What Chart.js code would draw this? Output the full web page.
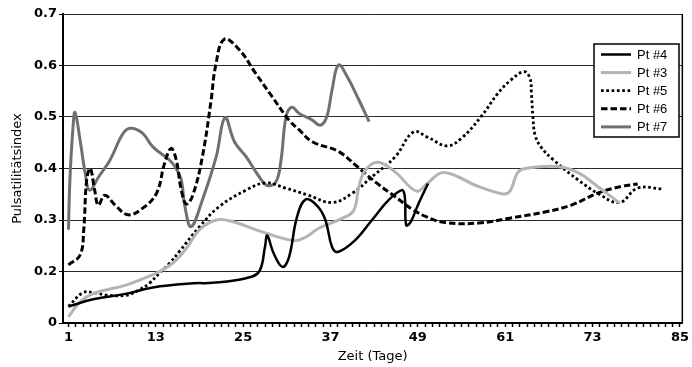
<!DOCTYPE html>
<html>
<head>
<meta charset="utf-8">
<script src="https://cdn.jsdelivr.net/npm/chart.js@4"></script>
<style>
  html, body { margin: 0; padding: 0; background: #fff; }
  #wrap { width: 692px; height: 367px; }
</style>
</head>
<body>
<div id="wrap"><canvas id="chart" width="692" height="367"></canvas></div>
<script>
// --- DATA ---
const xTickLabels = [1, 13, 25, 37, 49, 61, 73, 85];
// bottom grid line is labelled "0" in the original
const yTickLabels = ["0", "0.2", "0.3", "0.4", "0.5", "0.6", "0.7"];

const pt4Days = [1, 4.4, 9, 12.6, 18.1, 20.8, 25.4, 27.2, 28, 28.3, 29.2, 30.4, 31.3, 32.4, 33.6, 35.2, 36.3, 37.2, 38, 40.4, 42.7, 45, 46.8, 47.2, 47.4, 48, 49.1, 50.4];
const pt4Values = [0.132, 0.146, 0.157, 0.169, 0.177, 0.178, 0.187, 0.2, 0.248, 0.27, 0.235, 0.209, 0.228, 0.306, 0.34, 0.327, 0.3, 0.248, 0.238, 0.261, 0.3, 0.339, 0.358, 0.346, 0.29, 0.296, 0.332, 0.371];

const pt3Days = [1, 2.6, 4.4, 9, 12.6, 13.5, 15.3, 17.2, 19, 21.3, 23.5, 27.6, 32, 33.5, 35.4, 38.6, 40.2, 40.9, 41.8, 43.5, 45.9, 48.8, 50.3, 52.3, 54.5, 56.8, 60.5, 61.6, 62.7, 63.7, 68.2, 71, 73.7, 76.7];
const pt3Values = [0.112, 0.141, 0.157, 0.174, 0.194, 0.2, 0.216, 0.245, 0.281, 0.3, 0.297, 0.277, 0.26, 0.266, 0.284, 0.303, 0.319, 0.365, 0.397, 0.412, 0.393, 0.356, 0.371, 0.392, 0.384, 0.368, 0.351, 0.355, 0.392, 0.4, 0.404, 0.392, 0.365, 0.333];

const pt5Days = [1, 3, 4.4, 6.4, 9, 10.8, 12.1, 13.5, 14.9, 16.3, 19, 21.7, 25.4, 28.1, 30.8, 33.8, 37.2, 40, 42.7, 45.9, 48.4, 50.3, 53, 55, 57.7, 60, 61.8, 63.6, 64.4, 64.6, 64.8, 65.1, 65.9, 67.6, 71, 73.7, 76.7, 79.2, 82.8];
const pt5Values = [0.132, 0.159, 0.159, 0.154, 0.154, 0.165, 0.177, 0.197, 0.216, 0.24, 0.287, 0.326, 0.358, 0.372, 0.362, 0.349, 0.334, 0.352, 0.384, 0.423, 0.471, 0.461, 0.444, 0.459, 0.501, 0.546, 0.572, 0.588, 0.575, 0.546, 0.501, 0.465, 0.442, 0.417, 0.378, 0.352, 0.334, 0.362, 0.36];

const pt6Days = [1, 2.6, 3.1, 3.5, 4, 4.6, 5.1, 6, 7.4, 9.2, 11.2, 13.1, 14.2, 15.1, 15.8, 16.5, 17.2, 18.1, 19.4, 20.6, 21.2, 22.4, 24.5, 26.7, 29, 31.3, 32.7, 34.5, 38.1, 40.4, 43.4, 45.9, 48.2, 50.2, 52.7, 57.3, 61.4, 66.6, 70.1, 73.7, 76.9, 79.2];
const pt6Values = [0.213, 0.232, 0.281, 0.378, 0.4, 0.358, 0.329, 0.348, 0.329, 0.31, 0.323, 0.352, 0.41, 0.439, 0.417, 0.358, 0.331, 0.349, 0.423, 0.533, 0.598, 0.651, 0.63, 0.585, 0.539, 0.494, 0.475, 0.452, 0.433, 0.407, 0.371, 0.345, 0.321, 0.306, 0.295, 0.294, 0.303, 0.316, 0.329, 0.352, 0.365, 0.37];

const pt7Days = [1, 1.2, 1.6, 1.9, 2.6, 3.3, 3.9, 5.2, 6.7, 8.5, 9.6, 11.2, 12.6, 14.9, 15.8, 16.5, 17, 17.85, 19.4, 21.3, 22.5, 23.8, 25.4, 27.2, 28.3, 29.5, 30.2, 30.9, 31.7, 32.7, 34.5, 35.6, 36.5, 37.2, 38.1, 39.3, 40.9, 42.3];
const pt7Values = [0.281, 0.378, 0.475, 0.509, 0.455, 0.391, 0.358, 0.385, 0.416, 0.468, 0.478, 0.468, 0.442, 0.416, 0.4, 0.378, 0.326, 0.287, 0.339, 0.423, 0.499, 0.452, 0.423, 0.384, 0.367, 0.374, 0.416, 0.501, 0.519, 0.507, 0.494, 0.484, 0.501, 0.552, 0.601, 0.578, 0.533, 0.491];

// --- HELPERS ---
function toPoints(days, values) {
  return days.map((d, i) => ({ x: d, y: values[i] }));
}

function makeSeries(label, days, values, color, width, dash) {
  return {
    label: label,
    data: toPoints(days, values),
    borderColor: color,
    borderWidth: width,
    borderDash: dash,
    pointRadius: 0,
    tension: 0.4,
    fill: false,
  };
}

const tickFont = { family: "DejaVu Sans", size: 13, weight: "bold" };
const titleFont = { family: "DejaVu Sans", size: 13 };

// right border of the plot area
const plotBorder = {
  id: "plotBorder",
  beforeDatasetsDraw(chart) {
    const { ctx, chartArea } = chart;
    ctx.save();
    ctx.strokeStyle = "#000";
    ctx.lineWidth = 1.5;
    ctx.beginPath();
    ctx.moveTo(chartArea.right, chartArea.top);
    ctx.lineTo(chartArea.right, chartArea.bottom);
    ctx.stroke();
    ctx.restore();
  },
};

// boxed legend in the upper right of the plot
const boxLegend = {
  id: "boxLegend",
  afterDraw(chart) {
    const ctx = chart.ctx;
    const x = 594, y = 44, w = 85, h = 93;
    ctx.save();
    ctx.fillStyle = "#fff";
    ctx.fillRect(x, y, w, h);
    ctx.strokeStyle = "#000";
    ctx.lineWidth = 1.5;
    ctx.strokeRect(x, y, w, h);
    ctx.font = "13px 'Liberation Sans'";
    ctx.textBaseline = "middle";
    chart.data.datasets.forEach((ds, i) => {
      const cy = 54.5 + i * 18.1;
      ctx.strokeStyle = ds.borderColor;
      ctx.lineWidth = ds.borderWidth;
      ctx.setLineDash(ds.borderDash || []);
      ctx.beginPath();
      ctx.moveTo(601, cy);
      ctx.lineTo(631, cy);
      ctx.stroke();
      ctx.setLineDash([]);
      ctx.fillStyle = "#000";
      ctx.fillText(ds.label, 637, cy + 0.5);
    });
    ctx.restore();
  },
};

new Chart(document.getElementById("chart"), {
  type: "line",
  data: {
    datasets: [
      makeSeries("Pt #4", pt4Days, pt4Values, "#000000", 2.5, []),
      makeSeries("Pt #3", pt3Days, pt3Values, "#b4b4b4", 3, []),
      makeSeries("Pt #5", pt5Days, pt5Values, "#000000", 2.8, [2.7, 2.6]),
      makeSeries("Pt #6", pt6Days, pt6Values, "#000000", 3, [6.5, 3]),
      makeSeries("Pt #7", pt7Days, pt7Values, "#707070", 3, []),
    ],
  },
  options: {
    responsive: false,
    animation: false,
    layout: { padding: { left: 0, top: 14, right: 7, bottom: 0 } },
    plugins: {
      legend: { display: false },
      tooltip: { enabled: false },
    },
    scales: {
      x: {
        type: "linear",
        min: 0.25,
        max: 85.33,
        afterBuildTicks(axis) {
          const ticks = [];
          for (let d = 1; d <= 85; d++) ticks.push({ value: d });
          axis.ticks = ticks;
        },
        afterFit(axis) {
          axis.height = 44;
        },
        ticks: {
          autoSkip: false,
          maxRotation: 0,
          minRotation: 0,
          padding: 3,
          color: "#000",
          font: tickFont,
          callback: (v) => (xTickLabels.includes(v) ? String(v) : ""),
        },
        grid: {
          drawOnChartArea: false,
          tickLength: 4,
          tickColor: "#000",
          tickWidth: 1.5,
        },
        border: { color: "#000", width: 2 },
        title: {
          display: true,
          text: "Zeit (Tage)",
          color: "#000",
          font: titleFont,
          padding: { top: 0, bottom: 3 },
        },
      },
      y: {
        min: 0.1,
        max: 0.7,
        afterFit(axis) {
          axis.width = 63;
        },
        ticks: {
          stepSize: 0.1,
          padding: 2,
          color: "#000",
          font: tickFont,
          callback: (v, i) => yTickLabels[i],
        },
        grid: {
          color: "#2a2a2a",
          lineWidth: 1,
          tickLength: 4,
          tickColor: "#000",
        },
        border: { color: "#000", width: 2 },
        title: {
          display: true,
          text: "Pulsatilitätsindex",
          color: "#000",
          font: titleFont,
          padding: { top: 10, bottom: 0 },
        },
      },
    },
  },
  plugins: [plotBorder, boxLegend],
});
</script>
</body>
</html>
